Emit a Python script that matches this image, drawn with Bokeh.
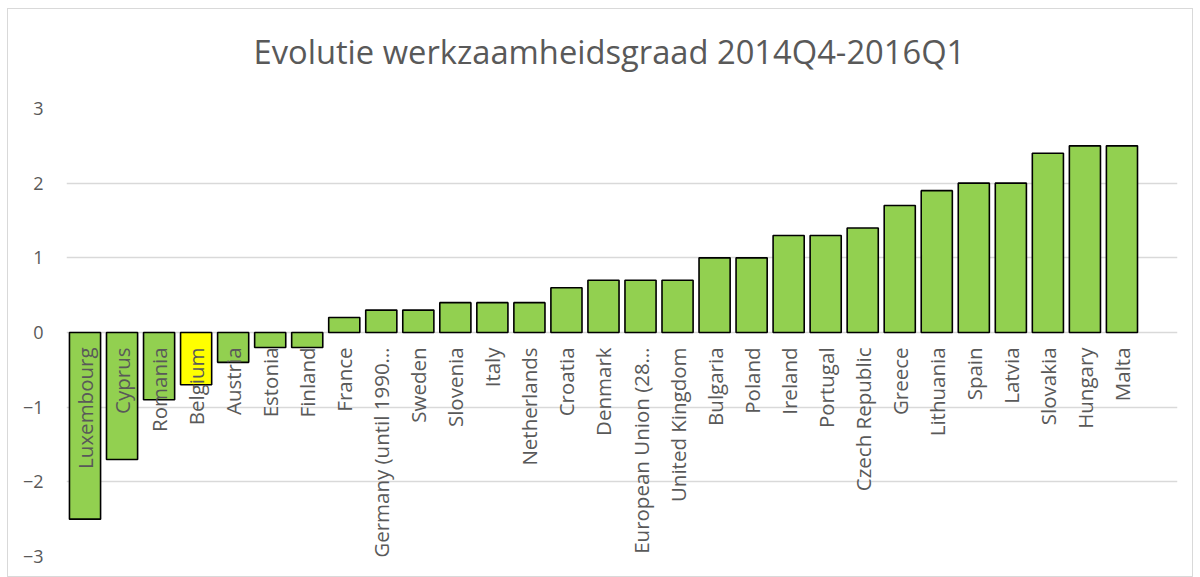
import math
from bokeh.plotting import figure
from bokeh.models import ColumnDataSource, FixedTicker, Range1d, Title
from bokeh.core.properties import value
from bokeh.embed import file_html
from bokeh.resources import INLINE

countries = ["Luxembourg", "Cyprus", "Romania", "Belgium", "Austria", "Estonia", "Finland",
             "France", "Germany (until 1990\u2026", "Sweden", "Slovenia", "Italy", "Netherlands",
             "Croatia", "Denmark", "European Union (28\u2026", "United Kingdom", "Bulgaria",
             "Poland", "Ireland", "Portugal", "Czech Republic", "Greece", "Lithuania", "Spain",
             "Latvia", "Slovakia", "Hungary", "Malta"]
values = [-2.5, -1.7, -0.9, -0.7, -0.4, -0.2, -0.2, 0.2, 0.3, 0.3, 0.4, 0.4, 0.4, 0.6, 0.7,
          0.7, 0.7, 1.0, 1.0, 1.3, 1.3, 1.4, 1.7, 1.9, 2.0, 2.0, 2.4, 2.5, 2.5]
y_ticks = [-3, -2, -1, 0, 1, 2, 3]
title_text = "Evolutie werkzaamheidsgraad 2014Q4-2016Q1"

GREEN = "#92d050"
YELLOW = "#ffff00"
GRAY = "#595959"
FONT = "Open Sans"

xs = list(range(len(countries)))
colors = [YELLOW if c == "Belgium" else GREEN for c in countries]
src = ColumnDataSource(dict(x=xs, top=values, name=countries, color=colors,
                            ly=[-0.2] * len(countries)))

p = figure(width=1186, height=569, output_backend="svg", toolbar_location=None,
           x_range=Range1d(-0.5, len(countries) + 0.5), y_range=Range1d(-3, 3),
           min_border_left=58, min_border_right=17, min_border_top=99, min_border_bottom=22,
           title=title_text)
p.styles = {"border": "1px solid #d9d9d9", "margin-left": "7px", "margin-top": "8px"}

# spacer between the title and the plot frame
p.add_layout(Title(text=" ", text_font_size="10px", standoff=10), "above")

p.title.text_font = FONT
p.title.text_font_size = "32.7px"
p.title.text_font_style = "normal"
p.title.text_color = GRAY
p.title.align = "left"
p.title.offset = 187
p.title.standoff = 23

p.outline_line_color = None
p.background_fill_color = "white"
p.border_fill_color = "white"

p.xaxis.visible = False
p.xgrid.visible = False
p.ygrid.ticker = FixedTicker(ticks=y_ticks)
p.ygrid.grid_line_color = "#d9d9d9"
p.ygrid.grid_line_width = 1.3

p.yaxis.ticker = FixedTicker(ticks=y_ticks)
p.yaxis.axis_line_color = None
p.yaxis.major_tick_line_color = None
p.yaxis.minor_tick_line_color = None
p.yaxis.major_label_text_font = FONT
p.yaxis.major_label_text_font_size = "18px"
p.yaxis.major_label_text_color = GRAY
p.yaxis.major_label_standoff = 17

p.vbar(x="x", top="top", bottom=0, width=0.84, fill_color="color", line_color="black",
       line_width=1.6, source=src)

p.text(x="x", y="ly", text="name", angle=math.pi / 2, text_align="right",
       text_baseline="middle", text_font=value(FONT), text_font_size="20.5px",
       text_color=GRAY, source=src)

open("out.html", "w").write(file_html(p, INLINE))
